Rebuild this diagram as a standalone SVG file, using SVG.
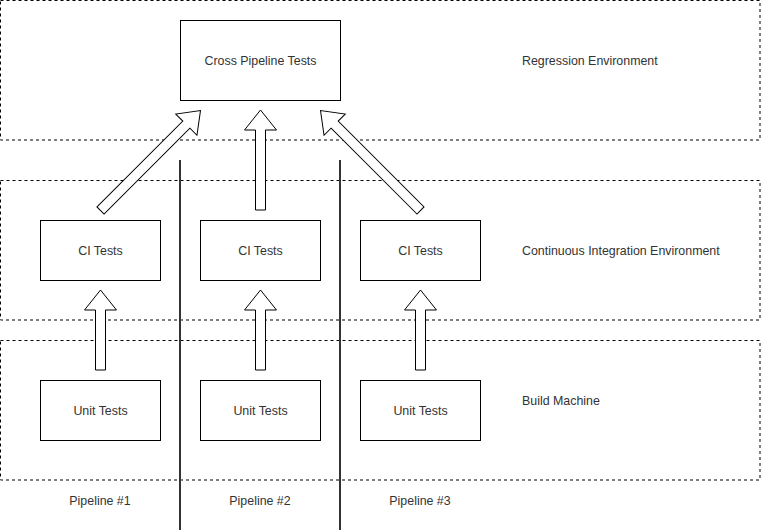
<svg xmlns="http://www.w3.org/2000/svg" width="761" height="532" viewBox="0 0 761 532">
<style>
.env{fill:none;stroke:#000;stroke-width:1;stroke-dasharray:3 3}
.box{fill:#fff;stroke:#000;stroke-width:1}
.arrow{fill:#fff;stroke:#000;stroke-width:1;stroke-linejoin:miter}
.sep{stroke:#333;stroke-width:2}
text{font-family:"Liberation Sans",Arial,sans-serif;font-size:12.4px;fill:#333}
.c{text-anchor:middle;dominant-baseline:central}
.l{text-anchor:start;dominant-baseline:central}
</style>
<defs>
<polygon id="diag" points="-5,141.4 -5,20 -15,20 0,0 15,20 5,20 5,141.4"/>
</defs>
<rect width="761" height="532" fill="#fff"/>
<g id="env-regression">
<rect class="env" x="0.5" y="0.5" width="759.5" height="139.5"/>
<text class="l" x="522" y="61">Regression Environment</text>
</g>
<g id="env-ci">
<rect class="env" x="0.5" y="180.5" width="759.5" height="139.5"/>
<text class="l" x="522" y="251">Continuous Integration Environment</text>
</g>
<g id="env-build">
<rect class="env" x="0.5" y="340.5" width="759.5" height="139.5"/>
<text class="l" x="522" y="401">Build Machine</text>
</g>
<g id="cross">
<rect class="box" x="180.5" y="20.5" width="160" height="80"/>
<text class="c" x="260.5" y="61">Cross Pipeline Tests</text>
</g>
<g id="ci1">
<rect class="box" x="40.5" y="220.5" width="120" height="60"/>
<text class="c" x="100.5" y="251">CI Tests</text>
</g>
<g id="ci2">
<rect class="box" x="200.5" y="220.5" width="120" height="60"/>
<text class="c" x="260.5" y="251">CI Tests</text>
</g>
<g id="ci3">
<rect class="box" x="360.5" y="220.5" width="120" height="60"/>
<text class="c" x="420.5" y="251">CI Tests</text>
</g>
<g id="unit1">
<rect class="box" x="40.5" y="380.5" width="120" height="60"/>
<text class="c" x="100.5" y="411">Unit Tests</text>
</g>
<g id="unit2">
<rect class="box" x="200.5" y="380.5" width="120" height="60"/>
<text class="c" x="260.5" y="411">Unit Tests</text>
</g>
<g id="unit3">
<rect class="box" x="360.5" y="380.5" width="120" height="60"/>
<text class="c" x="420.5" y="411">Unit Tests</text>
</g>
<g id="separators">
<line class="sep" x1="180" y1="160" x2="180" y2="530"/>
<line class="sep" x1="340" y1="160" x2="340" y2="530"/>
</g>
<g id="labels">
<text class="c" x="100" y="501">Pipeline #1</text>
<text class="c" x="260" y="501">Pipeline #2</text>
<text class="c" x="420" y="501">Pipeline #3</text>
</g>
<g id="connectors">
<polygon class="arrow" points="95.5,370 95.5,310 84.5,310 100.5,290 116.5,310 105.5,310 105.5,370"/>
<polygon class="arrow" points="255.5,370 255.5,310 244.5,310 260.5,290 276.5,310 265.5,310 265.5,370"/>
<polygon class="arrow" points="415.5,370 415.5,310 404.5,310 420.5,290 436.5,310 425.5,310 425.5,370"/>
<polygon class="arrow" points="255.5,210 255.5,130 244.5,130 260.5,110 276.5,130 265.5,130 265.5,210"/>
<use href="#diag" class="arrow" transform="translate(200.5,110.5) rotate(45)"/>
<use href="#diag" class="arrow" transform="translate(320.5,110.5) rotate(-45)"/>
</g>
</svg>
